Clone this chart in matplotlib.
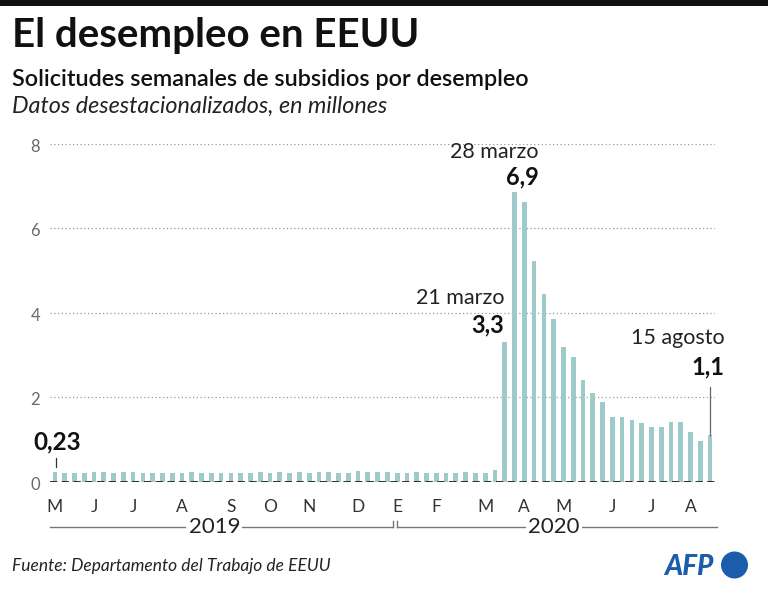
import matplotlib
matplotlib.use("Agg")
import matplotlib.pyplot as plt
import pandas as pd
from matplotlib.patches import Rectangle, Circle
from matplotlib.transforms import IdentityTransform

plt.rcParams['font.family'] = ['Lato', 'DejaVu Sans']

# ---------------- data ----------------
start_week = "2019-05-04"   # week ending dates (weekly)
values_2019 = [0.230, 0.212, 0.213, 0.217, 0.219, 0.221, 0.216, 0.227, 0.222,
               0.209, 0.216, 0.208, 0.215, 0.209, 0.220, 0.211, 0.215, 0.217,
               0.204, 0.210, 0.215, 0.219, 0.210, 0.218, 0.212, 0.218, 0.215,
               0.225, 0.228, 0.215, 0.203, 0.252, 0.235, 0.224, 0.220]
values_2020 = [0.212, 0.207, 0.220, 0.215, 0.203, 0.206, 0.214, 0.220, 0.217,
               0.211, 0.270, 3.31, 6.87, 6.62, 5.24, 4.44, 3.85, 3.18, 2.96,
               2.42, 2.10, 1.88, 1.53, 1.53, 1.46, 1.40, 1.30, 1.30, 1.41,
               1.42, 1.18, 0.96, 1.11]
month_letters = ["M", "J", "J", "A", "S", "O", "N", "D",
                 "E", "F", "M", "A", "M", "J", "J", "A"]
month_weeks = ["2019-05-04", "2019-06-01", "2019-06-29", "2019-08-03",
               "2019-09-07", "2019-10-05", "2019-11-02", "2019-12-07",
               "2020-01-04", "2020-02-01", "2020-03-07", "2020-04-04",
               "2020-05-02", "2020-06-06", "2020-07-04", "2020-08-01"]
y_ticks = [0, 2, 4, 6, 8]
annotations = [  # (week, date label, value label)
    ("2020-03-21", "21 marzo", "3,3"),
    ("2020-03-28", "28 marzo", "6,9"),
    ("2020-08-15", "15 agosto", "1,1"),
]
first_label = "0,23"

values = values_2019 + values_2020
weeks = pd.date_range(start_week, periods=len(values), freq="7D")
idx = {d.strftime("%Y-%m-%d"): i for i, d in enumerate(weeks)}
n2019 = len(values_2019)

# ---------------- figure ----------------
W, H = 768, 596
fig = plt.figure(figsize=(W / 100, H / 100), dpi=100)


def fx(x):
    return x / W


def fy(y):
    return 1 - y / H


# top black rule
fig.add_artist(Rectangle((0, fy(6)), 1, 6 / H, transform=fig.transFigure,
                         color="#111111", lw=0))

fig.text(fx(12), fy(47), "El desempleo en EEUU", fontsize=29,
         fontweight="bold", color="#111111", va="baseline")
fig.text(fx(12), fy(86), "Solicitudes semanales de subsidios por desempleo",
         fontsize=16.8, fontweight="semibold", color="#111111", va="baseline")
fig.text(fx(12), fy(113), "Datos desestacionalizados, en millones",
         fontsize=16.8, style="italic", color="#222222", va="baseline")

ax = fig.add_axes([fx(50), 1 - 481.7 / H, 665 / W, 337.7 / H])
ax.set_xlim(-0.5, len(values) - 0.5)
ax.set_ylim(0, 8)
for s in ax.spines.values():
    s.set_visible(False)

bar_color = "#9fcaca"
ax.bar(range(len(values)), values, width=0.48, color=bar_color, zorder=2)

for t in y_ticks[1:]:
    ax.axhline(t, color="#999999", lw=0.9, ls=(0, (1, 2)), zorder=1)
ax.axhline(0, color="#222222", lw=1.3, ls=(0, (4, 2.5)), zorder=3)

ax.set_xticks([])
ax.set_yticks([])
for t in y_ticks:
    ax.text(-1.5, t - 0.07, str(t), ha="right", va="center", fontsize=12,
            color="#6a6a6a", clip_on=False)

# month labels
xt = ax.get_xaxis_transform()
for letter, wk in zip(month_letters, month_weeks):
    ax.text(idx[wk], -0.074, letter, transform=xt, ha="center", va="center",
            fontsize=12.5, color="#333333", clip_on=False)

# year brackets
yb = -0.134
ytk = 0.018
ax.plot([-0.5, n2019 - 0.45], [yb, yb], transform=xt, color="#777777",
        lw=1.0, clip_on=False)
ax.plot([n2019 - 0.45, n2019 - 0.45], [yb, yb + ytk], transform=xt,
        color="#777777", lw=1.0, clip_on=False)
ax.plot([n2019 - 0.05, len(values) - 0.3], [yb, yb], transform=xt,
        color="#777777", lw=1.0, clip_on=False)
ax.plot([n2019 - 0.05, n2019 - 0.05], [yb, yb + ytk], transform=xt,
        color="#777777", lw=1.0, clip_on=False)
for label, center in [("2019", 16.3), ("2020", 51.0)]:
    ax.text(center, yb, label, transform=xt, ha="center", va="center",
            fontsize=16, color="#222222", clip_on=False,
            bbox=dict(boxstyle="square,pad=0.1", fc="white", ec="none"))

# annotations
ax.plot([0.15, 0.15], [0.35, 0.56], color="#333333", lw=0.9)
ax.text(0.2, 0.95, first_label, ha="center", va="center", fontsize=17.5,
        fontweight="bold", color="#111111", clip_on=False)

offsets = {"21 marzo": (45.95, 4.35, 3.71),
           "28 marzo": (49.5, 7.82, 7.23),
           "15 agosto": (68.5, 3.40, 2.72)}
for wk, lab, val in annotations:
    x, y1, y2 = offsets[lab]
    ax.text(x, y1, lab, ha="right", va="center", fontsize=15.5,
            color="#222222", clip_on=False)
    ax.text(x, y2, val, ha="right", va="center", fontsize=17,
            fontweight="bold", color="#111111", clip_on=False)
i_last = idx["2020-08-15"]
ax.plot([i_last, i_last], [values[i_last], 2.25], color="#666666", lw=0.9,
        clip_on=False)

# footer
fig.text(fx(12), fy(571), "Fuente: Departamento del Trabajo de EEUU",
         fontsize=12.5, style="italic", color="#222222", va="baseline")

# AFP logo
afp_blue = "#1b5cab"
fig.text(fx(664), fy(575), "AFP", fontsize=20, fontweight="black",
         style="italic", color=afp_blue, va="baseline")
fig.add_artist(Circle((734.5, H - 565), 13.5, transform=IdentityTransform(),
                      color=afp_blue, lw=0))

fig.savefig("out.png", dpi=100)
